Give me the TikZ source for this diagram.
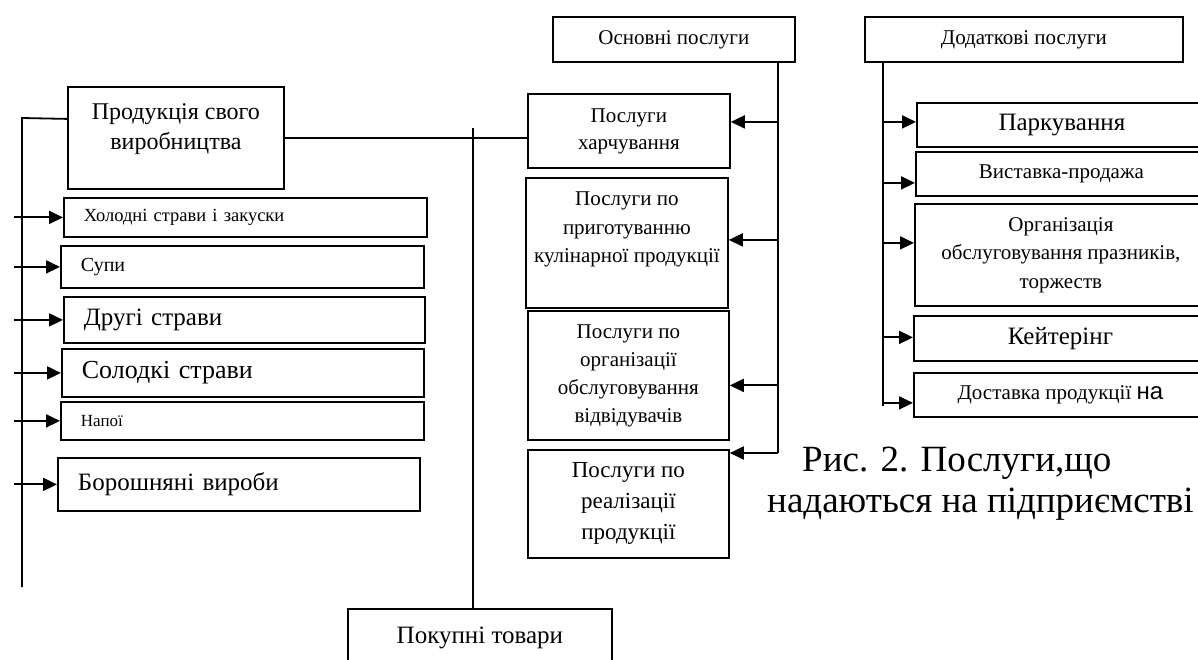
\documentclass[tikz,border=0pt]{standalone}
\usepackage{fontspec}
\setmainfont{Liberation Serif}
\newfontfamily\sansfnt{Liberation Sans}
\usetikzlibrary{arrows.meta,positioning}

\newcommand{\fsz}[2]{\fontsize{#1}{#2}\selectfont}

\tikzset{
  box/.style={draw, line width=1.8pt, inner sep=0pt, anchor=north west, align=center},
  lbox/.style={box, align=left, inner xsep=20pt},
  arr/.style={-{Triangle[length=14pt,width=13pt]}, line width=1.9pt},
  link/.style={line width=1.8pt},
}

\begin{document}
\begin{tikzpicture}[x=1pt,y=-1pt]
  \clip (0,0) rectangle (1198,659);

  % Own production and its groups
  \node[box, minimum width=216, minimum height=102, font=\fsz{24}{30}] (prod) at (67,86)
    {Продукція свого\\виробництва\\[-16pt]\strut};
  \node[lbox, text width=323, minimum height=39, font=\fsz{18.5}{22}] (hol) at (63,197) {Холодні страви і закуски};
  \node[lbox, text width=323, minimum height=42, font=\fsz{20}{24}] (supy) at (60,245) {Супи};
  \node[lbox, text width=321, minimum height=46, font=\fsz{25}{30}] (druhi) at (63,296) {Другі страви};
  \node[lbox, text width=322, minimum height=48, font=\fsz{26}{30}] (solod) at (61,348) {Солодкі страви};
  \node[lbox, text width=323, minimum height=38, font=\fsz{17}{20}] (napoi) at (60,401) {Напої};
  \node[lbox, text width=322, minimum height=53, font=\fsz{25}{30}] (borosh) at (57,457) {Борошняні вироби};

  \coordinate (ltop) at (22,118);
  \coordinate (lbot) at (22,587);
  \draw[link] ([yshift=19pt]prod.west) -- (ltop) -- (lbot);
  \foreach \b in {hol,supy,druhi,solod,napoi,borosh}
    \draw[arr] ([xshift=-8pt]ltop |- \b.west) -- (\b.west);

  % Main services
  \node[box, minimum width=242, minimum height=45, font=\fsz{21}{26}] (osn) at (552,16) {Основні послуги};
  \node[box, minimum width=202, minimum height=74, font=\fsz{21}{27}] (kharch) at (527,93) {Послуги\\харчування};
  \node[box, minimum width=202, minimum height=130, font=\fsz{21}{28.5}] (prygot) at (525,177)
    {Послуги по\\приготуванню\\кулінарної продукції\\[-6pt]\strut};
  \node[box, minimum width=201, minimum height=129, font=\fsz{21}{28}] (organ) at (527,310)
    {Послуги по\\організації\\обслуговування\\відвідувачів};
  \node[box, minimum width=201, minimum height=108, font=\fsz{23}{31}] (realiz) at (527,449)
    {Послуги по\\реалізації\\продукції};
  \node[box, minimum width=264, minimum height=58, font=\fsz{25}{30}] (pokup) at (347,608) {Покупні товари};

  \draw[link] (prod.east) -- (prod.east -| kharch.west);
  \coordinate (mjoin) at (473,128);
  \draw[link] (mjoin) -- (mjoin |- pokup.north);

  \coordinate (mtop) at ([xshift=-18pt]osn.south east);
  \draw[link] (mtop) -- ([yshift=-4pt]mtop |- realiz.north);
  \foreach \b/\dy in {kharch/9, prygot/3, organ/-10}
    \draw[arr] ([yshift=\dy pt]\b.east -| mtop) -- ([yshift=\dy pt]\b.east);
  \draw[arr] ([yshift=-4pt]realiz.north east -| mtop) -- ([yshift=-4pt]realiz.north east);

  % Additional services
  \node[box, minimum width=318, minimum height=45, font=\fsz{21}{26}] (dodat) at (864,16) {Додаткові послуги};
  \node[box, minimum width=290, minimum height=44, font=\fsz{25}{30}] (park) at (916,102) {Паркування};
  \node[box, minimum width=291, minimum height=44, font=\fsz{21}{26}] (vyst) at (915,151) {Виставка-продажа};
  \node[box, minimum width=292, minimum height=102, font=\fsz{21}{28.5}] (orgsv) at (914,203)
    {Організація\\обслуговування празників,\\торжеств};
  \node[box, minimum width=293, minimum height=45, font=\fsz{25}{30}] (keit) at (913,315) {Кейтерінг};
  \node[box, minimum width=293, minimum height=44, font=\fsz{21}{26}] (dostav) at (913,372)
    {Доставка продукції {\sansfnt\fsz{24}{28}на}};

  \coordinate (rtop) at ([xshift=19pt]dodat.south west);
  \draw[link] (rtop) -- ([yshift=-11pt]dostav.west -| rtop);
  \foreach \b/\dy in {park/3, vyst/-9, orgsv/12, keit/1, dostav/-8}
    \draw[arr] ([yshift=\dy pt]\b.west -| rtop) -- ([yshift=\dy pt]\b.west);

  % Caption
  \node[anchor=north west, inner sep=0pt, align=left, font=\fsz{37}{41}] (cap) at (767,447)
    {\hspace*{35pt}Рис. 2. Послуги,що\\надаються на підприємстві};
\end{tikzpicture}
\end{document}
